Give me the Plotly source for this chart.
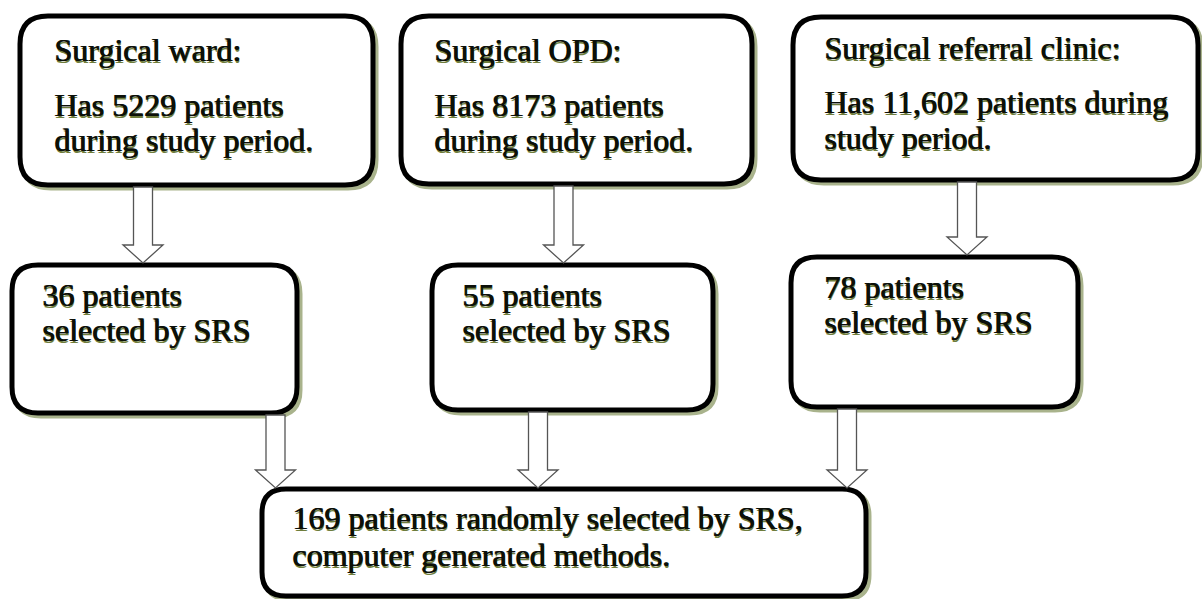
import plotly.graph_objects as go

# ---- content (data) ----
top_titles = ["Surgical ward:", "Surgical OPD:", "Surgical referral clinic:"]
top_counts = ["5229", "8173", "11,602"]
top_line1 = ["Has 5229 patients", "Has 8173 patients", "Has 11,602 patients during"]
top_line2 = ["during study period.", "during study period.", "study period."]
mid_counts = ["36", "55", "78"]
mid_line1 = [f"{c} patients" for c in mid_counts]
mid_line2 = ["selected by SRS", "selected by SRS", "selected by SRS"]
final_lines = ["169 patients randomly selected by SRS,", "computer generated methods."]

# ---- layout geometry (pixels, y downward) ----
W, H = 1202, 599
top_boxes = [(20, 16, 373, 185), (401, 16, 752, 184), (793, 17, 1198, 180)]
mid_boxes = [(12, 265, 297, 413), (432, 265, 713, 410), (791, 257, 1078, 407)]
final_box = (262, 489, 866, 596)
radius = 28

FONT = "Liberation Serif"
FS = 32
TXT = "#0c1008"
SHADOW = "#6f7d3c"


def rrect(x0, y0, x1, y1, r):
    return (f"M {x0+r},{y0} L {x1-r},{y0} Q {x1},{y0} {x1},{y0+r} "
            f"L {x1},{y1-r} Q {x1},{y1} {x1-r},{y1} L {x0+r},{y1} "
            f"Q {x0},{y1} {x0},{y1-r} L {x0},{y0+r} Q {x0},{y0} {x0+r},{y0} Z")


def arrow(cx, y0, y1, sw=9.5, hw=20, hl=18):
    yh = y1 - hl
    return (f"M {cx-sw},{y0} L {cx+sw},{y0} L {cx+sw},{yh} L {cx+hw},{yh} "
            f"L {cx},{y1} L {cx-hw},{yh} L {cx-sw},{yh} Z")


shapes = []
annotations = []


def add_box(b, r=radius):
    x0, y0, x1, y1 = b
    shapes.append(dict(type="path", path=rrect(x0 + 3, y0 + 3, x1 + 3, y1 + 3, r),
                       line=dict(color="#a9b38c", width=5), fillcolor="rgba(0,0,0,0)",
                       xref="x", yref="y", layer="below"))
    shapes.append(dict(type="path", path=rrect(x0, y0, x1, y1, r),
                       line=dict(color="#000000", width=5), fillcolor="white",
                       xref="x", yref="y", layer="below"))


def add_arrow(cx, y0, y1):
    shapes.append(dict(type="path", path=arrow(cx, y0, y1),
                       line=dict(color="#555555", width=1.3), fillcolor="white",
                       xref="x", yref="y", layer="above"))


def add_text(x, baseline, text):
    yc = baseline - FS * 0.3
    for dx, dy, col in [(1.3, 1.3, SHADOW), (0.5, 0, TXT), (0, 0, TXT)]:
        annotations.append(dict(x=x + dx, y=yc + dy, xref="x", yref="y", text=text,
                                showarrow=False, xanchor="left", yanchor="middle",
                                font=dict(family=FONT, size=FS, color=col)))


for b in top_boxes:
    add_box(b)
for b in mid_boxes:
    add_box(b, 26)
add_box(final_box, 24)

# arrows top -> mid
top_arrow_x = [143, 563.5, 967]
for i, cx in enumerate(top_arrow_x):
    add_arrow(cx, top_boxes[i][3] + 2, mid_boxes[i][1] - 2)
# arrows mid -> final
mid_arrow_x = [275.5, 538, 847]
for i, cx in enumerate(mid_arrow_x):
    add_arrow(cx, mid_boxes[i][3] + 2, final_box[1] - 1)

# texts
top_text_x = [52, 432, 822]
top_base = [(60, 115, 150), (60, 115, 150), (58, 112, 148)]
for i in range(3):
    b1, b2, b3 = top_base[i]
    add_text(top_text_x[i], b1, top_titles[i])
    add_text(top_text_x[i], b2, top_line1[i])
    add_text(top_text_x[i], b3, top_line2[i])

mid_text_x = [40, 460, 822]
mid_base = [(305, 340), (305, 340), (297, 332)]
for i in range(3):
    add_text(mid_text_x[i], mid_base[i][0], mid_line1[i])
    add_text(mid_text_x[i], mid_base[i][1], mid_line2[i])

add_text(290, 528, final_lines[0])
add_text(290, 565, final_lines[1])

fig = go.Figure()
fig.add_trace(go.Scatter(x=[0, W], y=[0, H], mode="markers",
                         marker=dict(opacity=0), hoverinfo="skip", showlegend=False))
fig.update_layout(
    width=W, height=H, margin=dict(l=0, r=0, t=0, b=0),
    paper_bgcolor="white", plot_bgcolor="white",
    xaxis=dict(range=[0, W], visible=False, fixedrange=True),
    yaxis=dict(range=[H, 0], visible=False, fixedrange=True),
    shapes=shapes, annotations=annotations, showlegend=False,
)
fig.write_html("out.html", config={"displayModeBar": False},
               post_script="document.body.style.margin='0';document.body.style.overflow='hidden';")
